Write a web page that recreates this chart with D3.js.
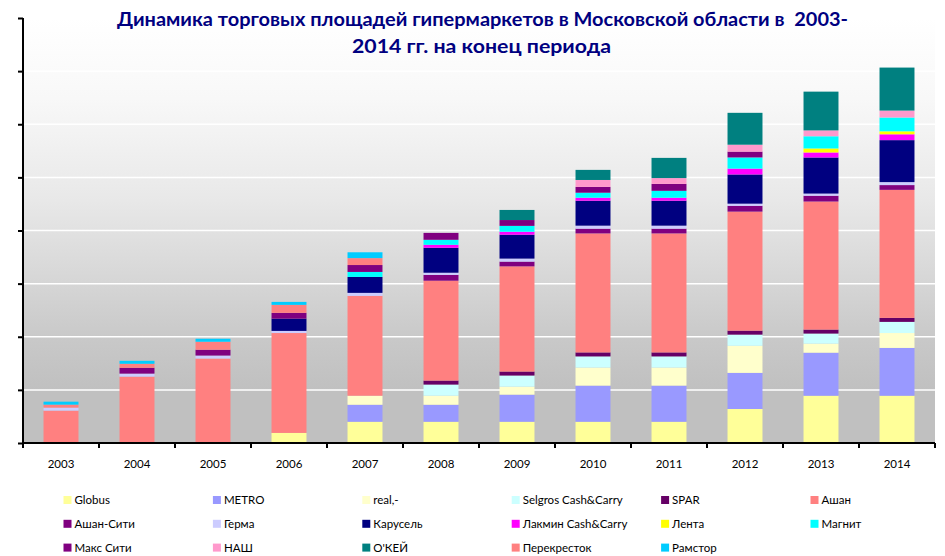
<!DOCTYPE html>
<html>
<head>
<meta charset="utf-8">
<script src="https://cdn.jsdelivr.net/npm/d3@7"></script>
<style>
  body { margin: 0; background: #fff; }
  svg { display: block; font-family: Lato, "Open Sans", sans-serif; }
</style>
</head>
<body>
<div id="chart"></div>
<script>
// years on the x axis
const years = ["2003", "2004", "2005", "2006", "2007", "2008", "2009", "2010", "2011", "2012", "2013", "2014"];

// series names, in stack order from the bottom
const series = ["Globus", "METRO", "real,-", "Selgros Cash&Carry", "SPAR", "Ашан",
  "Ашан-Сити", "Герма", "Карусель", "Лакмин Cash&Carry", "Лента", "Магнит",
  "Макс Сити", "НАШ", "О'КЕЙ", "Перекресток", "Рамстор"];

const seriesColors = ["#ffff99", "#9999ff", "#ffffcc", "#ccffff", "#660066", "#ff8080",
  "#800080", "#ccccff", "#000080", "#ff00ff", "#ffff00", "#00ffff",
  "#800080", "#ff99cc", "#008080", "#ff8080", "#00ccff"];

// values (one tick = 100)
const globus      = [0, 0, 0, 19, 40, 40, 40, 40, 40, 64, 89, 89];
const metro       = [0, 0, 0, 0, 32, 32, 51, 68, 68, 68, 81, 90];
const real        = [0, 0, 0, 0, 17, 17, 15, 34, 34, 51, 17, 28];
const selgros     = [0, 0, 0, 0, 0, 21, 21, 21, 21, 21, 19, 21];
const spar        = [0, 0, 0, 0, 0, 7.5, 7.5, 7.5, 7.5, 7.5, 7.5, 7.5];
const auchan      = [61, 125, 159, 188, 188, 188, 198, 224, 224, 224, 241, 241];
const auchanCity  = [0, 0, 0, 0, 0, 11, 9, 9, 9, 11, 11, 9];
const germa       = [5.6, 5.6, 5.6, 4, 5.6, 4, 5.6, 5.6, 5.6, 4, 4, 5.6];
const karusel     = [0, 0, 0, 23, 30, 47, 45, 47, 47, 55, 68, 79];
const lakmin      = [0, 0, 0, 0, 0, 5.6, 5.6, 5.6, 5.6, 11, 9.4, 11];
const lenta       = [0, 0, 0, 0, 0, 0, 0, 0, 0, 0, 7.5, 5.6];
const magnit      = [0, 0, 0, 0, 9.4, 9.4, 11, 9.4, 13, 21, 23, 26];
const maxCity     = [0, 11, 11, 11, 13, 13, 11, 11, 13, 11, 0, 0];
const nash        = [0, 0, 0, 0, 0, 0, 0, 13, 11, 13, 11, 13];
const okey        = [0, 0, 0, 0, 0, 0, 19, 19, 38, 60, 73, 81];
const perekrestok = [5.6, 7.5, 15, 15, 13, 0, 0, 0, 0, 0, 0, 0];
const ramstor     = [5.6, 5.6, 5.6, 5.6, 11, 0, 0, 0, 0, 0, 0, 0];

const seriesValues = [globus, metro, real, selgros, spar, auchan, auchanCity, germa, karusel,
  lakmin, lenta, magnit, maxCity, nash, okey, perekrestok, ramstor];

const yTicks = [0, 100, 200, 300, 400, 500, 600, 700, 800];

const titleLines = ["Динамика торговых площадей гипермаркетов в Московской области в  2003-",
  "2014 гг. на конец периода"];

/* ---------------- dimensions ---------------- */
const width = 945, height = 556;
const margins = { t: 18, l: 23, r: 10, b: 113 };
const chartdims = { width: width - margins.l - margins.r, height: height - margins.t - margins.b };

const svg = d3.select("#chart").append("svg")
  .attr("width", width)
  .attr("height", height);

const table = years.map((y, i) => {
  const row = { year: y };
  series.forEach((s, j) => { row[s] = seriesValues[j][i]; });
  return row;
});
const stacked = d3.stack().keys(series)(table);

const xScale = d3.scaleBand().domain(years).range([0, chartdims.width]).paddingInner(0.54).paddingOuter(0.27);
const yScale = d3.scaleLinear().domain([0, 800]).range([chartdims.height, 0]);

/* ---------------- background ---------------- */
const defs = svg.append("defs");
const grad = defs.append("linearGradient").attr("id", "bg").attr("x1", 0).attr("y1", 0).attr("x2", 0).attr("y2", 1);
[[0, "#ffffff"], [0.19, "#f8f8f8"], [0.43, "#e8e8e8"], [0.64, "#d4d4d4"], [0.76, "#c8c8c8"], [0.875, "#c0c0c0"], [1, "#c0c0c0"]]
  .forEach(s => grad.append("stop").attr("offset", s[0]).attr("stop-color", s[1]));

const plotg = svg.append("g").attr("transform", `translate(${margins.l},${margins.t})`);

plotg.append("rect")
  .attr("width", chartdims.width)
  .attr("height", chartdims.height)
  .attr("fill", "url(#bg)");

plotg.selectAll(".grid")
  .data(yTicks.slice(1))
  .join("line")
  .attr("class", "grid")
  .attr("x1", 0).attr("x2", chartdims.width)
  .attr("y1", d => yScale(d)).attr("y2", d => yScale(d))
  .attr("stroke", "#ffffff")
  .attr("stroke-width", 1.5);

/* ---------------- bars ---------------- */
plotg.selectAll(".layer")
  .data(stacked)
  .join("g")
  .attr("class", "layer")
  .attr("fill", (d, i) => seriesColors[i])
  .selectAll("rect")
  .data(d => d)
  .join("rect")
  .attr("x", d => xScale(d.data.year))
  .attr("width", xScale.bandwidth())
  .attr("y", d => yScale(d[1]))
  .attr("height", d => yScale(d[0]) - yScale(d[1]));

/* ---------------- axes ---------------- */
const yAxis = d3.axisLeft(yScale).tickValues(yTicks).tickSize(5).tickFormat("");
const yaxisg = plotg.append("g").call(yAxis);
yaxisg.select(".domain").attr("stroke-width", 2).attr("d", `M0,${chartdims.height + 1}V0`);
yaxisg.selectAll(".tick line").attr("stroke-width", 2);

const boundaries = d3.range(years.length + 1).map(i => i * xScale.step());
const xaxisg = plotg.append("g").attr("transform", `translate(0,${chartdims.height})`);
xaxisg.append("line")
  .attr("x1", -1).attr("x2", chartdims.width)
  .attr("stroke", "#000").attr("stroke-width", 2);
xaxisg.selectAll(".xtick")
  .data(boundaries)
  .join("line")
  .attr("class", "xtick")
  .attr("x1", d => d).attr("x2", d => d)
  .attr("y1", 0).attr("y2", 5)
  .attr("stroke", "#000").attr("stroke-width", 2);
xaxisg.selectAll(".xlabel")
  .data(years)
  .join("text")
  .attr("class", "xlabel")
  .attr("x", d => xScale(d) + xScale.bandwidth() / 2)
  .attr("y", 25)
  .attr("text-anchor", "middle")
  .attr("font-size", 11.5)
  .attr("fill", "#000")
  .text(d => d);

/* ---------------- title ---------------- */
svg.selectAll(".title")
  .data(titleLines)
  .join("text")
  .attr("class", "title")
  .attr("x", (d, i) => i === 0 ? 117 : 352)
  .attr("y", (d, i) => 26 + i * 27)
  .attr("textLength", (d, i) => i === 0 ? 731 : 259)
  .attr("lengthAdjust", "spacingAndGlyphs")
  .attr("font-size", 18)
  .attr("font-weight", "bold")
  .attr("fill", "#000080")
  .attr("xml:space", "preserve")
  .style("white-space", "pre")
  .text(d => d);

/* ---------------- legend ---------------- */
const legendg = svg.append("g");
const legendItems = legendg.selectAll(".legend-item")
  .data(series)
  .join("g")
  .attr("class", "legend-item")
  .attr("transform", (d, i) => `translate(${63.5 + (i % 6) * 149.4},${500 + Math.floor(i / 6) * 23.8})`);
legendItems.append("rect")
  .attr("x", 0).attr("y", -4)
  .attr("width", 8).attr("height", 8)
  .attr("fill", (d, i) => seriesColors[i]);
legendItems.append("text")
  .attr("x", 11).attr("y", 4)
  .attr("font-size", 11.5)
  .attr("fill", "#000")
  .text(d => d);
</script>
</body>
</html>
